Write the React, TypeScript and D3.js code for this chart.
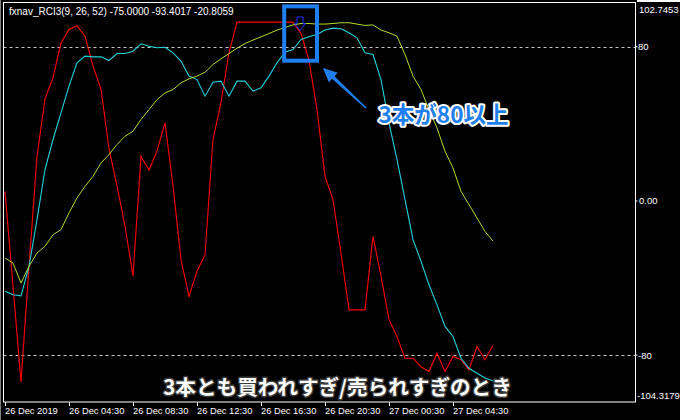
import * as d3 from "d3";

const title = "fxnav_RCI3(9, 26, 52) -75.0000 -93.4017 -20.8059";

// RCI(9), RCI(26), RCI(52), one value every second 15-min bar
const rci9 = [
  5, -44, -94, -34, 23, 53, 64, 82, 89, 91, 85.5, 70, 58, 27, 8, -13, -39, 23, 16, 26,
  40.5, 8, -30.5, -49.5, -36.5, -28, 32, 51, 77, 92.8, 92.8, 92.8, 92.8, 92.8, 92.8, 92.8, 92.8, 87, 73, 47.4,
  12.8, 0.7, -27, -56.5, -56.5, -56.5, -18.4, -39, -61.6, -70.3, -81.6, -81.6, -86, -88.5, -79, -88.5, -80.7, -82.4, -87.6, -75.5,
  -82.4, -75,
];
const rci26 = [
  -46.9, -48.7, -49.2, -34, -9.7, 16.3, 31.9, 45.7, 59.6, 71.7, 75.2, 74.8, 74.8, 72.9, 76.5, 76.5, 77.7, 81.6, 80.3, 79.5,
  79.8, 76.9, 72.6, 64.8, 63, 54.4, 61.6, 62.2, 54.4, 62.2, 62.2, 57, 58.7, 64.8, 71.7, 77.2, 78.6, 83.8, 85.2, 86.4,
  88.7, 89.7, 89.4, 87.3, 84.7, 76.9, 76, 63, 40.5, 21.5, 0.7, -20.1, -31.3, -43.5, -53.9, -65.1, -70.3, -81.6, -86.8, -89.4,
  -91.9, -93.4017,
];
const rci52 = [
  -29.6, -32.2, -42.6, -33.9, -27, -23.5, -17.5, -14.9, -6.2, 1.6, 7.6, 12.8, 19.7, 24.1, 29.3, 33.6, 36.2, 42.3, 47.4, 52.6,
  56.1, 57.8, 61.3, 63.4, 64.8, 66.8, 70.8, 73.8, 76.5, 79.3, 81.7, 83.5, 85.2, 86.9, 88.7, 90, 91.4, 92.1, 92.1, 91.8,
  91.8, 92.1, 92.5, 92.5, 91.8, 91.1, 91.4, 88.7, 87.3, 85.5, 76, 64.8, 57.8, 47.4, 37.9, 25.8, 17.1, 5, -1.9, -8.8,
  -15.8, -20.8059,
];

const timeTickIdx = [0, 8, 16, 24, 32, 40, 48, 56];
const timeTickLabels = [
  "26 Dec 2019", "26 Dec 04:30", "26 Dec 08:30", "26 Dec 12:30",
  "26 Dec 16:30", "26 Dec 20:30", "27 Dec 00:30", "27 Dec 04:30",
];

const yMin = -104.3179;
const yMax = 102.7453;
const levelValues = [80, -80];
const yTickValues = [yMax, 80, 0, -80, yMin];
const yTickLabels = ["102.7453", "80", "0.00", "-80", "-104.3179"];

// sell signal arrow + highlight box (in data units)
const signalIdx = 37;
const signalValue = 95.5;
const boxIdx = [34.9, 39];
const boxValues = [101, 72.8];

const W = 680;
const H = 420;
const left = 3.5;
const right = 635.5;
const top = 2.5;
const bottom = 402;
const step = 8;

export default function App() {
  const x = d3.scaleLinear([0, rci9.length - 1], [5, 5 + (rci9.length - 1) * step]);
  const y = d3.scaleLinear([yMin, yMax], [bottom, 3]);
  const line = d3.line<number>((d, i) => x(i), (d) => y(d));

  const axisFont = "'Liberation Sans', Arial, sans-serif";
  const jpFont = "'Noto Sans CJK JP', sans-serif";

  // pointer arrow from the label to the box
  const tip: [number, number] = [323, 68];
  const tail: [number, number] = [366, 108];
  const dx = tip[0] - tail[0];
  const dy = tip[1] - tail[1];
  const len = Math.hypot(dx, dy);
  const u = [dx / len, dy / len];
  const n = [-u[1], u[0]];
  const headLen = 14;
  const headW = 6.5;
  const base = [tip[0] - u[0] * headLen, tip[1] - u[1] * headLen];
  const pt = (p: number[], k: number) => `${p[0] + n[0] * k},${p[1] + n[1] * k}`;
  const arrowPts = [
    `${tip[0]},${tip[1]}`,
    pt(base, headW),
    pt(base, 1.8),
    pt(tail, 0.8),
    pt(tail, -0.8),
    pt(base, -1.8),
    pt(base, -headW),
  ].join(" ");

  const sx = x(signalIdx) - 1;
  const sy = y(signalValue);

  return (
    <svg
      width={W}
      height={H}
      style={{ position: "absolute", left: 0, top: 0, display: "block" }}
    >
      <rect x={0} y={0} width={W} height={H} fill="#000" />
      <line x1={0.5} x2={0.5} y1={0} y2={H} stroke="#808080" />
      <rect x={637} y={0} width={43} height={2} fill="#fff" />

      {/* 80 / -80 levels */}
      {levelValues.map((v) => (
        <line
          key={v}
          x1={left}
          x2={right}
          y1={Math.round(y(v)) + 0.5}
          y2={Math.round(y(v)) + 0.5}
          stroke="#c8c8c8"
          strokeDasharray="3,3"
        />
      ))}

      <path d={line(rci9) as string} fill="none" stroke="#ff0000" strokeWidth={1.1} />
      <path d={line(rci26) as string} fill="none" stroke="#1ed2dc" strokeWidth={1.1} />
      <path d={line(rci52) as string} fill="none" stroke="#b4dc2c" strokeWidth={1} />

      {/* frame */}
      <rect
        x={left}
        y={top}
        width={right - left}
        height={bottom - top}
        fill="none"
        stroke="#fff"
      />

      <text x={9} y={15} fill="#fff" fontSize={10} fontFamily={axisFont}>
        {title}
      </text>

      {/* right axis */}
      {yTickValues.map((v, i) => (
        <g key={i}>
          {i > 0 && i < yTickValues.length - 1 && (
            <line x1={right} x2={right + 2} y1={y(v)} y2={y(v)} stroke="#fff" />
          )}
          <text
            x={i === 4 ? 637 : i === 1 || i === 3 ? 638 : 639}
            y={Math.min(399, Math.max(13, y(v) + 3.5))}
            fill="#fff"
            fontSize={9.5}
            fontFamily={axisFont}
          >
            {yTickLabels[i]}
          </text>
        </g>
      ))}

      {/* time axis */}
      {timeTickIdx.map((t, i) => (
        <g key={t}>
          <line x1={x(t) + 0.5} x2={x(t) + 0.5} y1={bottom} y2={bottom + 4} stroke="#fff" />
          <text x={x(t)} y={414} fill="#fff" fontSize={9.3} fontFamily={axisFont}>
            {timeTickLabels[i]}
          </text>
        </g>
      ))}

      {/* sell signal arrow */}
      <path
        d={`M${sx - 3},${sy} H${sx + 3} V${sy + 6.5} H${sx + 5.5} L${sx},${sy + 13.5} L${sx - 5.5},${sy + 6.5} H${sx - 3} Z`}
        fill="none"
        stroke="#1e32ff"
        strokeWidth={1}
      />

      {/* highlight box */}
      <rect
        x={x(boxIdx[0])}
        y={y(boxValues[0])}
        width={x(boxIdx[1]) - x(boxIdx[0])}
        height={y(boxValues[1]) - y(boxValues[0])}
        fill="none"
        stroke="#1f7ff0"
        strokeWidth={4}
      />

      <polygon points={arrowPts} fill="#1f7ff0" />

      <text
        x={443.5}
        y={123}
        textAnchor="middle"
        fontSize={22.5}
        fontWeight="bold"
        fontFamily={jpFont}
        fill="#1f7ff0"
        stroke="#fff"
        strokeWidth={4}
        strokeLinejoin="round"
        paintOrder="stroke"
      >
        3本が80以上
      </text>

      <text
        x={337.5}
        y={394.5}
        textAnchor="middle"
        fontSize={20.6}
        fontWeight="bold"
        fontFamily={jpFont}
        fill="#fff"
        stroke="#3a3a3a"
        strokeWidth={3}
        strokeLinejoin="round"
        paintOrder="stroke"
      >
        3本とも買われすぎ/売られすぎのとき
      </text>
    </svg>
  );
}
